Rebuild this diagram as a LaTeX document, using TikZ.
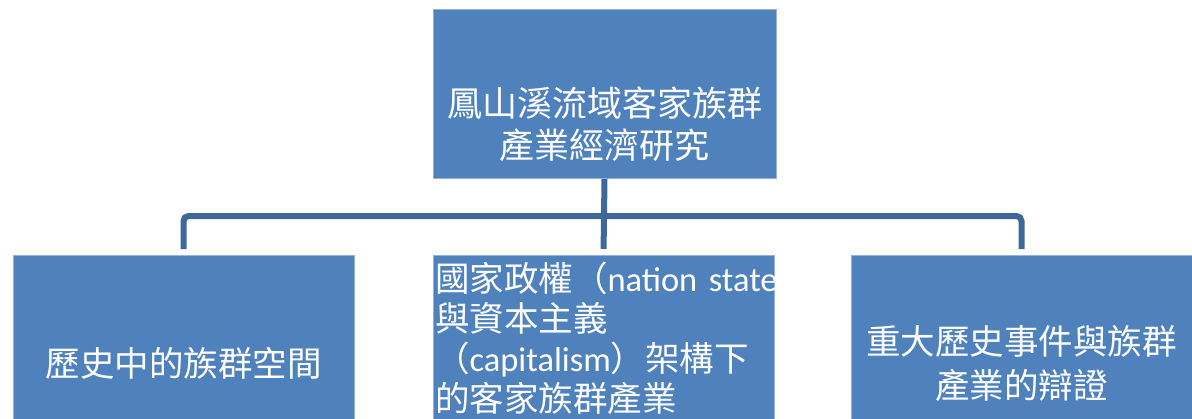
\documentclass[tikz,border=0pt]{standalone}
\usepackage{fontspec}
\newfontfamily\cjk{Noto Sans CJK TC}
\newfontfamily\latfont{Carlito}
\usepackage{tikz}
\usetikzlibrary{positioning}
\definecolor{boxblue}{HTML}{4F81BD}
\definecolor{linkblue}{RGB}{62,104,156}

\begin{document}
\begin{tikzpicture}[%
    x=1pt, y=-1pt,
    box/.style={rectangle, fill=boxblue, draw=boxblue!60!white, line width=0.8,
      minimum width=341, inner sep=2, text=white, align=center,
      font=\cjk\fontsize{34.5}{44}\selectfont},
    boxtext/.style={text=white, align=center, inner sep=0,
      font=\cjk\fontsize{35}{42}\selectfont},
    link/.style={draw=linkblue, line width=6}
  ]
    \useasboundingbox (0,0) rectangle (1192,418);

    \node[box, minimum width=343, minimum height=169, anchor=north] (top) at (604.5,9) {};
    \node[boxtext] (toptext) at ([yshift=-30.5]top.center) {鳳山溪流域客家族群\\產業經濟研究};

    \node[box, minimum height=216, anchor=north] (left) at (183.5,255) {歷史中的族群空間};

    \node[box, minimum height=166, anchor=north, text width=337, align=left,
      font=\cjk\fontsize{34.5}{40}\selectfont] (mid) at (603.5,255)
      {\makebox[0pt][l]{國家政權（{\latfont nation state}）}\\與資本主義\\（{\latfont capitalism}）架構下\\的客家族群產業};

    \node[box, minimum height=216, anchor=north] (right) at (1021.5,255) {重大歷史事件與族群\\產業的辯證};

    \coordinate (bar) at (604,216);

    % tree connector
    \draw[link, shorten >=6] (top.south) -- (mid.north);
    \draw[link, rounded corners=5, shorten <=6, shorten >=6] (left.north) |- (bar) -| (right.north);
\end{tikzpicture}
\end{document}
